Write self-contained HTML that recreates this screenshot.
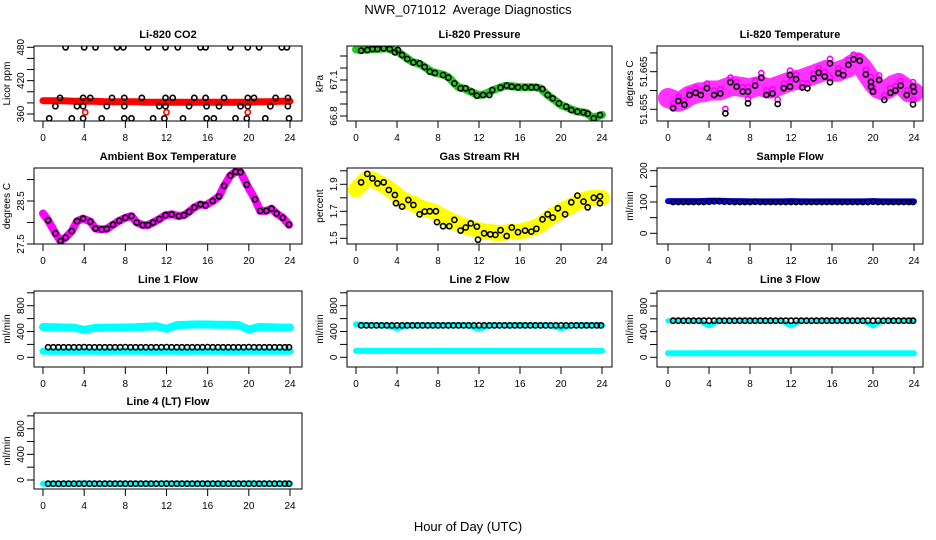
<!DOCTYPE html>
<html><head><meta charset="utf-8">
<style>
html,body{margin:0;padding:0;background:#fff;}
svg{display:block;font-family:"Liberation Sans",sans-serif;}
</style></head>
<body>
<svg id="fig" width="936" height="540" viewBox="0 0 936 540" xmlns="http://www.w3.org/2000/svg">
<text x="468" y="14" text-anchor="middle" font-size="13" style="white-space:pre">NWR_071012  Average Diagnostics</text>
<text x="468" y="531" text-anchor="middle" font-size="13">Hour of Day (UTC)</text>
</svg>
<script>
const xTicks = [0,4,8,12,16,20,24];
const H25 = [0,1,2,3,4,5,6,7,8,9,10,11,12,13,14,15,16,17,18,19,20,21,22,23,24];
const H49 = [0,0.5,1,1.5,2,2.5,3,3.5,4,4.5,5,5.5,6,6.5,7,7.5,8,8.5,9,9.5,10,10.5,11,11.5,12,12.5,13,13.5,14,14.5,15,15.5,16,16.5,17,17.5,18,18.5,19,19.5,20,20.5,21,21.5,22,22.5,23,23.5,24];
const BH = [0.5,1,1.5,2,2.5,3,3.5,4,4.5,5,5.5,6,6.5,7,7.5,8,8.5,9,9.5,10,10.5,11,11.5,12,12.5,13,13.5,14,14.5,15,15.5,16,16.5,17,17.5,18,18.5,19,19.5,20,20.5,21,21.5,22,22.5,23,23.5,23.9];

// CO2
const co2Band = [384,384,384,383,383,383,382,382,382,382,381,381,381,381,381,381,381,381,381,381,381,382,382,383,383];
const co2Hours = [2.2,4.0,5.1,7.2,7.8,10.2,11.9,13.1,15.3,15.8,18.2,19.9,21.0,23.2,23.7, 1.65,3.9,4.6,6.7,7.9,9.6,11.9,12.6,14.7,15.8,17.6,19.9,20.5,22.6,23.8, 1.2,3.3,3.9,6.2,7.9,11.3,11.9,14.2,15.9,17.1,19.2,19.9,22.1,23.8, 0.6,2.8,3.9,5.7,7.9,8.6,10.7,11.8,13.6,15.9,16.6,18.7,19.8,21.6,23.9];
const co2Vals = [480,480,480,480,480,480,480,480,480,480,480,480,480,480,480, 389,389,389,389,389,389,389,389,389,389,389,389,389,389,389, 374,374,374,374,374,374,374,374,374,374,374,374,374,374, 352,352,352,352,352,352,352,352,352,352,352,352,352,352,352];
const co2RedHours = [4.1,12.0,19.9];
const co2RedVals = [363,363,363];

// Pressure
const presBand = [67.355,67.35,67.352,67.356,67.358,67.362,67.365,67.35,67.34,67.31,67.28,67.25,67.24,67.22,67.19,67.165,67.155,67.145,67.125,67.08,67.04,67.03,67.01,66.99,66.975,66.98,67.0,67.02,67.035,67.05,67.05,67.045,67.04,67.04,67.04,67.04,67.03,66.99,66.955,66.925,66.89,66.875,66.855,66.84,66.832,66.825,66.79,66.795,66.81];
const presHours = [0.5,1.1,1.6,2.1,2.7,3.3,3.8,4.1,4.5,5.0,5.6,6.2,6.7,7.2,7.7,8.5,9.0,9.6,10.2,10.7,11.3,11.8,12.4,13.0,13.3,14.1,14.7,15.2,15.8,16.5,17.1,17.6,18.2,18.7,19.2,19.8,20.5,21.0,21.6,22.2,22.6,23.2,23.8];
const presVals = [67.344,67.35,67.358,67.358,67.364,67.358,67.33,67.35,67.308,67.275,67.247,67.239,67.208,67.169,67.158,67.142,67.119,67.072,67.031,67.031,67.003,66.969,66.975,66.975,67.017,67.036,67.053,67.044,67.039,67.039,67.039,67.039,67.025,66.975,66.947,66.906,66.878,66.85,66.836,66.831,66.819,66.781,66.808];

// Li-820 temperature
const tempBand = [51.658,51.6575,51.657,51.6575,51.6585,51.659,51.6595,51.6595,51.66,51.66,51.66,51.6605,51.661,51.6612,51.661,51.6608,51.6605,51.661,51.6612,51.6608,51.6605,51.661,51.6615,51.662,51.6625,51.6628,51.663,51.6635,51.664,51.6645,51.665,51.6655,51.665,51.665,51.6655,51.666,51.667,51.6675,51.666,51.664,51.662,51.6605,51.66,51.6605,51.6615,51.662,51.661,51.6595,51.6595];
const tempHours = [0.5,1.0,1.6,2.1,2.7,3.2,3.8,4.5,5.1,5.6,6.1,6.7,7.3,7.8,7.8,8.5,9.1,9.6,10.2,10.7,11.3,11.9,11.9,12.5,13.1,13.6,14.2,14.7,15.3,15.8,15.8,16.6,17.1,17.6,18.1,18.7,19.3,19.8,19.8,20.0,20.6,21.1,21.7,22.2,22.7,23.3,23.9,23.9,24.0];
const tempVals = [51.6553,51.6572,51.6562,51.6588,51.6594,51.6588,51.6606,51.6588,51.6592,51.6539,51.6622,51.661,51.6597,51.6597,51.6566,51.6613,51.6634,51.6588,51.6592,51.6564,51.6606,51.6641,51.661,51.663,51.6608,51.6606,51.6632,51.6647,51.6637,51.6672,51.6622,51.6646,51.6641,51.6668,51.6683,51.6679,51.6643,51.6623,51.661,51.6597,51.6628,51.6575,51.6594,51.66,51.6613,51.6588,51.6563,51.661,51.6597];

// Ambient box temperature
const ambHours = [0,0.5,1.2,1.7,2.2,2.8,3.3,3.9,4.6,5.1,5.7,6.2,6.8,7.4,8.0,8.6,9.1,9.7,10.2,10.7,11.3,11.9,12.5,13.2,13.7,14.2,14.7,15.3,15.8,16.5,17.1,17.6,18.2,18.7,19.2,19.8,20.6,21.1,21.7,22.2,22.7,23.3,23.9];
const ambVals = [28.21,28.05,27.75,27.57,27.65,27.8,28.03,28.09,28.02,27.86,27.84,27.85,27.95,28.04,28.11,28.15,28.0,27.94,27.94,28.0,28.08,28.17,28.19,28.15,28.17,28.25,28.35,28.42,28.4,28.5,28.61,28.85,29.09,29.18,29.17,28.88,28.54,28.27,28.27,28.32,28.21,28.11,27.95];

// Gas stream RH
const rhBand = [1.86,1.90,1.94,1.94,1.92,1.90,1.88,1.85,1.82,1.79,1.77,1.76,1.74,1.72,1.71,1.70,1.68,1.66,1.64,1.62,1.61,1.59,1.58,1.57,1.56,1.55,1.55,1.54,1.54,1.54,1.55,1.55,1.55,1.56,1.57,1.58,1.60,1.63,1.66,1.68,1.70,1.72,1.74,1.76,1.78,1.79,1.80,1.80,1.80];
const rhHours = [0.5,1.1,1.6,2.1,2.7,3.2,3.8,3.9,4.5,5.1,5.6,6.2,6.7,7.2,7.8,7.9,8.5,9.1,9.6,10.2,10.7,11.2,11.8,11.9,12.5,13.1,13.6,14.1,14.7,15.2,15.8,16.5,17.1,17.6,18.2,18.7,19.2,19.7,20.4,21.0,21.6,22.2,22.6,23.2,23.8,23.8];
const rhVals = [1.915,1.977,1.944,1.907,1.915,1.858,1.821,1.76,1.735,1.784,1.747,1.678,1.698,1.70,1.70,1.62,1.59,1.59,1.636,1.557,1.58,1.61,1.587,1.49,1.537,1.53,1.525,1.56,1.517,1.58,1.545,1.557,1.55,1.57,1.64,1.678,1.653,1.722,1.678,1.767,1.816,1.772,1.73,1.80,1.81,1.76];

// Sample flow
const sampleBlue = [103,103,103,103,104,104,103,103,102,102,102,102,103,102,102,102,102,102,102,102,103,102,102,102,102];
const sampleBlack = [100,100,100,100,100,100,100,101,102,102,101,101,100,100,100,100,101,100,100,100,100,100,100,100,100,100,100,100,100,100,100,100,100,100,100,100,100,100,100,101,100,100,100,100,100,100,100,100];

// Line 1 flow
const l1Upper = [470,465,462,460,425,455,458,460,462,465,475,480,440,500,505,510,508,505,505,500,430,470,465,460,462];
const l1Lower = [95,95,95,95,95,95,95,95,95,95,95,95,95,95,95,95,95,95,95,95,95,95,95,95,95];
const l1Black = [155,155,155,155,155,155,155,158,155,155,155,155,155,155,155,158,155,155,155,155,155,155,155,158,155,155,155,155,155,155,155,158,155,155,155,155,155,155,155,158,155,155,155,155,155,155,155,155];

// Line 2 flow
const l2Upper = [510,500,495,495,450,495,495,495,495,495,495,495,440,495,495,495,495,495,495,495,450,495,495,495,495];
const l2Lower = [100,100,100,100,100,100,100,100,100,100,100,100,100,100,100,100,100,100,100,100,100,100,100,100,100];
const l2Black = [495,495,495,495,495,495,495,495,495,495,495,495,495,495,495,495,495,495,495,495,495,495,495,495,495,495,495,495,495,495,495,495,495,495,495,495,495,495,495,495,495,495,495,495,495,495,495,495];

// Line 3 flow
const l3Upper = [571,571,571,571,490,571,571,571,571,571,571,571,490,571,571,571,571,571,571,571,490,571,571,571,571];
const l3Lower = [62,62,62,62,66,62,62,62,64,62,62,62,64,62,62,62,64,62,62,62,62,62,62,62,62];
const l3Black = [571,571,571,571,571,571,571,571,571,571,571,571,571,571,571,571,571,571,571,571,571,571,571,571,571,571,571,571,571,571,571,571,571,571,571,571,571,571,571,571,571,571,571,571,571,571,571,571];

// Line 4 flow
const l4Cyan = [-57,-57,-57,-57,-50,-57,-57,-57,-57,-57,-57,-57,-50,-57,-57,-57,-57,-57,-57,-57,-50,-57,-57,-57,-57];
const l4Black = [-57,-57,-57,-57,-57,-57,-57,-57,-57,-57,-57,-57,-57,-57,-57,-57,-57,-57,-57,-57,-57,-57,-57,-57,-57,-57,-57,-57,-57,-57,-57,-57,-57,-57,-57,-57,-57,-57,-57,-57,-57,-57,-57,-57,-57,-57,-57,-57];

const NS = 'http://www.w3.org/2000/svg';
const svg = document.getElementById('fig');
const COLS = [{bx:34,bw:268,x0:43,x24:290},{bx:347,bw:265,x0:356,x24:602},{bx:657,bw:266,x0:668,x24:914}];
const ROWS = [{top:46,h:75},{top:168,h:76},{top:291,h:76},{top:413,h:76}];

function mk(tag, attrs, parent){
  const e = document.createElementNS(NS, tag);
  for (const k in attrs) e.setAttribute(k, attrs[k]);
  parent.appendChild(e);
  return e;
}

function panel(cfg){
  const c = COLS[cfg.col], r = ROWS[cfg.row];
  const g = mk('g', {}, svg);
  
  
  const xs = h => c.x0 + (h/24)*(c.x24 - c.x0);
  const [v1,p1,v2,p2] = cfg.ymap;
  const ys = v => p1 + (v - v1)*(p2 - p1)/(v2 - v1);
  const clipId = 'clip-' + cfg.name;
  const cp = mk('clipPath', {id: clipId}, g);
  mk('rect', {x:c.bx, y:r.top, width:c.bw, height:r.h}, cp);
  const plot = mk('g', {'clip-path':'url(#'+clipId+')'}, g);
  
  
  cfg.layers.forEach(L => {
    if (L.type === 'band'){
      const pts = L.h.map((h,i) => xs(h).toFixed(1) + ',' + ys(L.v[i]).toFixed(1)).join(' ');
      const pl = mk('polyline', {points:pts, fill:'none', stroke:L.color, 'stroke-width':L.w, 'stroke-linejoin':'round', 'stroke-linecap':'round'}, plot);
      
      
    } else {
      const gg = mk('g', {}, plot);
      
      
      L.h.forEach((h,i) => {
        const ci = mk('circle', {cx:xs(h).toFixed(1), cy:ys(L.v[i]).toFixed(1), r:L.r || 2.6, fill:'none', stroke:L.color, 'stroke-width':L.sw || 1.6}, gg);
        
        
      });
    }
  });
  const box = mk('rect', {x:c.bx, y:r.top, width:c.bw, height:r.h, fill:'none', stroke:'#000', 'stroke-width':1}, g);
  
  
  const bottom = r.top + r.h;
  xTicks.forEach(t => {
    mk('line', {x1:xs(t), x2:xs(t), y1:bottom, y2:bottom+7, stroke:'#000'}, g);
    const tx = mk('text', {x:xs(t), y:bottom+20, 'text-anchor':'middle', 'font-size':10}, g);
    tx.textContent = t;
    
    
  });
  cfg.yticks.forEach(t => {
    mk('line', {x1:c.bx-7, x2:c.bx, y1:ys(t), y2:ys(t), stroke:'#000'}, g);
  });
  cfg.ylabels.forEach(t => {
    const y = ys(parseFloat(t)), x = c.bx - 10;
    const tx = mk('text', {x:x, y:y, 'text-anchor':'middle', 'font-size':10, transform:'rotate(-90 '+x+' '+y+')'}, g);
    tx.textContent = t;
    
    
  });
  const yx = c.bx - 24, ym = r.top + r.h/2;
  const yt = mk('text', {x:yx, y:ym, 'text-anchor':'middle', 'font-size':10, transform:'rotate(-90 '+yx+' '+ym+')'}, g);
  yt.textContent = cfg.ylab;
  
  
  const tt = mk('text', {x:c.bx + c.bw/2, y:r.top - 8, 'text-anchor':'middle', 'font-size':11, 'font-weight':'bold'}, g);
  tt.textContent = cfg.title;
  
  
}

const flowTicks = [0,200,400,600,800,1000];
const flowLabels = ['0','400','800'];

panel({name:'co2', col:0, row:0, title:'Li-820 CO2', ylab:'Licor ppm', ymap:[480,47.3,360,114],
  yticks:[360,380,400,420,440,460,480], ylabels:['360','420','480'],
  layers:[{type:'band',name:'co2-band',h:H25,v:co2Band,color:'#ff0000',w:7},
          {type:'pts',name:'co2-points',h:co2Hours,v:co2Vals,color:'#000'},
          {type:'pts',name:'co2-red-points',h:co2RedHours,v:co2RedVals,color:'#ff0000'}]});
panel({name:'pressure', col:1, row:0, title:'Li-820 Pressure', ylab:'kPa', ymap:[66.8,116,67.1,80],
  yticks:[66.8,66.9,67.0,67.1,67.2,67.3], ylabels:['66.8','67.1'],
  layers:[{type:'band',name:'pressure-band',h:H49,v:presBand,color:'#22cc22',w:8},
          {type:'pts',name:'pressure-points',h:presHours,v:presVals,color:'#000'}]});
panel({name:'li820-temp', col:2, row:0, title:'Li-820 Temperature', ylab:'degrees C', ymap:[51.655,109.3,51.665,71.7],
  yticks:[51.655,51.66,51.665,51.67], ylabels:['51.655','51.665'],
  layers:[{type:'band',name:'temp-band',h:H49,v:tempBand,color:'#ff33ff',w:20},
          {type:'pts',name:'temp-magenta-points',h:tempHours,v:tempVals.map(v=>v+0.0012),color:'#ff00ff'},
          {type:'pts',name:'temp-points',h:tempHours,v:tempVals,color:'#000'}]});
panel({name:'ambient', col:0, row:1, title:'Ambient Box Temperature', ylab:'degrees C', ymap:[27.5,244,28.5,201],
  yticks:[27.5,28.0,28.5,29.0], ylabels:['27.5','28.5'],
  layers:[{type:'band',name:'ambient-band',h:ambHours,v:ambVals,color:'#ff00ff',w:8},
          {type:'pts',name:'ambient-points',h:ambHours.slice(1),v:ambVals.slice(1),color:'#000'}]});
panel({name:'rh', col:1, row:1, title:'Gas Stream RH', ylab:'percent', ymap:[1.5,238.3,1.9,184.3],
  yticks:[1.5,1.6,1.7,1.8,1.9,2.0], ylabels:['1.5','1.7','1.9'],
  layers:[{type:'band',name:'rh-band',h:H49,v:rhBand,color:'#ffff00',w:16},
          {type:'pts',name:'rh-points',h:rhHours,v:rhVals,color:'#000'}]});
panel({name:'sample-flow', col:2, row:1, title:'Sample Flow', ylab:'ml/min', ymap:[0,233.3,200,170.7],
  yticks:[0,50,100,150,200], ylabels:['0','100','200'],
  layers:[{type:'band',name:'sample-band',h:H25,v:sampleBlue,color:'#0000ff',w:6},
          {type:'pts',name:'sample-points',h:BH,v:sampleBlack,color:'#000'}]});
panel({name:'line1-flow', col:0, row:2, title:'Line 1 Flow', ylab:'ml/min', ymap:[0,357.3,800,305.7],
  yticks:flowTicks, ylabels:flowLabels,
  layers:[{type:'band',name:'line1-upper',h:H25,v:l1Upper,color:'#00ffff',w:8},
          {type:'band',name:'line1-lower',h:H25,v:l1Lower,color:'#00ffff',w:7},
          {type:'pts',name:'line1-points',h:BH,v:l1Black,color:'#000'}]});
panel({name:'line2-flow', col:1, row:2, title:'Line 2 Flow', ylab:'ml/min', ymap:[0,357.3,800,305.7],
  yticks:flowTicks, ylabels:flowLabels,
  layers:[{type:'band',name:'line2-upper',h:H25,v:l2Upper,color:'#00ffff',w:6},
          {type:'band',name:'line2-lower',h:H25,v:l2Lower,color:'#00ffff',w:6},
          {type:'pts',name:'line2-points',h:BH,v:l2Black,color:'#000'}]});
panel({name:'line3-flow', col:2, row:2, title:'Line 3 Flow', ylab:'ml/min', ymap:[0,357.3,800,306],
  yticks:flowTicks, ylabels:flowLabels,
  layers:[{type:'band',name:'line3-upper',h:H25,v:l3Upper,color:'#00ffff',w:5},
          {type:'band',name:'line3-lower',h:H25,v:l3Lower,color:'#00ffff',w:6},
          {type:'pts',name:'line3-points',h:BH,v:l3Black,color:'#000'}]});
panel({name:'line4-flow', col:0, row:3, title:'Line 4 (LT) Flow', ylab:'ml/min', ymap:[0,480,800,428.7],
  yticks:flowTicks, ylabels:flowLabels,
  layers:[{type:'band',name:'line4-band',h:H25,v:l4Cyan,color:'#00ffff',w:6},
          {type:'pts',name:'line4-points',h:BH,v:l4Black,color:'#000'}]});
</script>
</body></html>
